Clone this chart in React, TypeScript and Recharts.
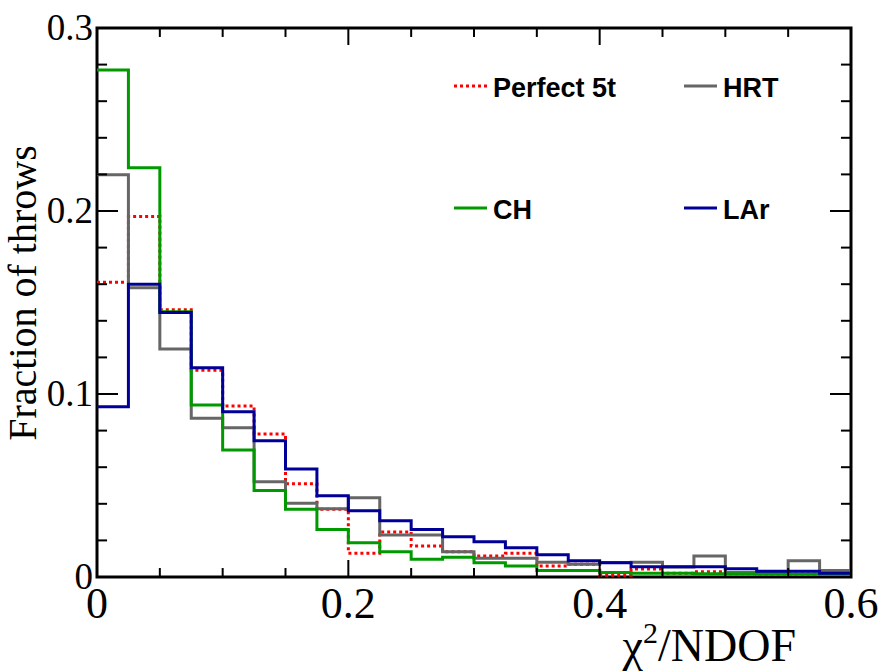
import React from 'react';
import { ComposedChart, Line, XAxis, YAxis, Label, ReferenceLine, ReferenceArea } from 'recharts';

// Bin edges (chi2/NDOF)
const EDGES = [0, 0.025, 0.05, 0.075, 0.1, 0.125, 0.15, 0.175, 0.2, 0.225, 0.25, 0.275, 0.3,
  0.325, 0.35, 0.375, 0.4, 0.425, 0.45, 0.475, 0.5, 0.525, 0.55, 0.575, 0.6];

// Bin contents (fraction of throws), one value per bin
const PERFECT_5T = [0.161, 0.197, 0.146, 0.113, 0.0934, 0.0781, 0.051, 0.037, 0.013, 0.0246, 0.0169, 0.0138,
  0.0115, 0.013, 0.006, 0.0069, 0.001, 0.0044, 0.002, 0.0029, 0.0018, 0.0017, 0.0017, 0.0018];
const HRT = [0.2198, 0.158, 0.1246, 0.0867, 0.0816, 0.0521, 0.0403, 0.0373, 0.0433, 0.023, 0.023, 0.0138,
  0.0102, 0.0102, 0.008, 0.0069, 0.0079, 0.008, 0.0055, 0.0115, 0.0024, 0.003, 0.0089, 0.0035];
const CH = [0.277, 0.2237, 0.145, 0.094, 0.0694, 0.0472, 0.037, 0.026, 0.0187, 0.0138, 0.0097, 0.0108,
  0.0078, 0.006, 0.0035, 0.0035, 0.0024, 0.002, 0.002, 0.0018, 0.0018, 0.0017, 0.0017, 0.0015];
const LAR = [0.093, 0.16, 0.1445, 0.1144, 0.0903, 0.0745, 0.059, 0.0444, 0.0362, 0.0308, 0.026, 0.022,
  0.0193, 0.016, 0.0122, 0.0089, 0.0078, 0.0056, 0.0056, 0.0056, 0.0045, 0.0031, 0.0031, 0.002];

const X_TICKS = [0, 0.05, 0.1, 0.15, 0.2, 0.25, 0.3, 0.35, 0.4, 0.45, 0.5, 0.55, 0.6];
const X_LABELS = [0, 0.2, 0.4, 0.6];
const Y_TICKS = [0, 0.02, 0.04, 0.06, 0.08, 0.1, 0.12, 0.14, 0.16, 0.18, 0.2, 0.22, 0.24, 0.26, 0.28, 0.3];
const Y_LABELS = [0, 0.1, 0.2, 0.3];

const X_MIN = 0;
const X_MAX = 0.6;
const Y_MIN = 0;
const Y_MAX = 0.3;

// tick lengths, in axis units (drawn inward from the frame)
const X_TICK_MAJOR = 0.0093;
const X_TICK_MINOR = 0.0049;
const Y_TICK_MAJOR = 0.0167;
const Y_TICK_MINOR = 0.008;

const SERIES = [
  { key: 'perfect', name: 'Perfect 5t', color: '#ff0000', dash: '3 3', values: PERFECT_5T },
  { key: 'hrt', name: 'HRT', color: '#666666', dash: undefined, values: HRT },
  { key: 'ch', name: 'CH', color: '#009900', dash: undefined, values: CH },
  { key: 'lar', name: 'LAr', color: '#000099', dash: undefined, values: LAR },
];

const LEGEND_POS = [
  { x: 454, y: 86 },
  { x: 684, y: 86 },
  { x: 454, y: 208 },
  { x: 684, y: 208 },
];

const data = EDGES.map((x, i) => {
  const j = Math.min(i, EDGES.length - 2);
  const row: any = { x };
  SERIES.forEach((s) => { row[s.key] = s.values[j]; });
  return row;
});

const isIn = (v: number, list: number[]) => list.some((l) => Math.abs(l - v) < 1e-9);
const fmt = (v: number) => (Math.abs(v) < 1e-12 ? '0' : String(Math.round(v * 10) / 10));

const SERIF = '"Liberation Serif", "Times New Roman", serif';
const SANS = '"Liberation Sans", Arial, sans-serif';

const BottomTick = (props: any) => {
  const { x, y, payload } = props;
  if (!isIn(payload.value, X_LABELS)) return <g />;
  return (
    <text x={x} y={y + 41} textAnchor="middle" fontFamily={SERIF} fontSize={44} fill="#000">
      {fmt(payload.value)}
    </text>
  );
};

const LeftTick = (props: any) => {
  const { x, y, payload } = props;
  if (!isIn(payload.value, Y_LABELS)) return <g />;
  return (
    <text x={x - 4} y={y + 12} textAnchor="end" fontFamily={SERIF} fontSize={37} fill="#000">
      {fmt(payload.value)}
    </text>
  );
};

const XTitle = (props: any) => {
  const vb = props.viewBox || { x: 97, y: 577, width: 754, height: 95 };
  return (
    <text x={vb.x + vb.width - 55} y={vb.y + 84} textAnchor="end" fontFamily={SERIF} fontSize={46} fill="#000">
      χ<tspan dy={-18} fontSize={30}>2</tspan><tspan dy={18}>/NDOF</tspan>
    </text>
  );
};

const YTitle = (props: any) => {
  const vb = props.viewBox || { x: 0, y: 28, width: 97, height: 549 };
  const cx = 36;
  const cy = vb.y + 265;
  return (
    <text x={cx} y={cy} transform={`rotate(-90 ${cx} ${cy})`} textAnchor="middle" fontFamily={SERIF} fontSize={40} fill="#000">
      Fraction of throws
    </text>
  );
};

export default function App() {
  return (
    <div style={{ position: 'absolute', left: 0, top: 0, width: 896, height: 672, background: '#fff' }}>
      <ComposedChart width={896} height={672} data={data} margin={{ top: 28, right: 45, bottom: 0, left: 0 }}>
        <XAxis
          dataKey="x"
          type="number"
          domain={[X_MIN, X_MAX]}
          allowDataOverflow
          ticks={X_TICKS}
          interval={0}
          height={95}
          tickSize={0}
          tickMargin={0}
          tickLine={false}
          axisLine={false}
          tick={<BottomTick />}
        >
          <Label content={<XTitle />} />
        </XAxis>
        <YAxis
          type="number"
          domain={[Y_MIN, Y_MAX]}
          allowDataOverflow
          ticks={Y_TICKS}
          interval={0}
          width={97}
          tickSize={0}
          tickMargin={0}
          tickLine={false}
          axisLine={false}
          tick={<LeftTick />}
        >
          <Label content={<YTitle />} />
        </YAxis>
        {SERIES.map((s) => (
          <Line
            key={s.key}
            dataKey={s.key}
            name={s.name}
            type="stepAfter"
            stroke={s.color}
            strokeWidth={3}
            strokeDasharray={s.dash}
            dot={false}
            activeDot={false}
            isAnimationActive={false}
          />
        ))}
        {X_TICKS.map((t) => {
          const len = isIn(t, X_LABELS) ? X_TICK_MAJOR : X_TICK_MINOR;
          return [
            <ReferenceLine key={`xb${t}`} segment={[{ x: t, y: Y_MIN }, { x: t, y: Y_MIN + len }]} stroke="#000" strokeWidth={2} ifOverflow="visible" />,
            <ReferenceLine key={`xt${t}`} segment={[{ x: t, y: Y_MAX }, { x: t, y: Y_MAX - len }]} stroke="#000" strokeWidth={2} ifOverflow="visible" />,
          ];
        })}
        {Y_TICKS.map((t) => {
          const len = isIn(t, Y_LABELS) ? Y_TICK_MAJOR : Y_TICK_MINOR;
          return [
            <ReferenceLine key={`yl${t}`} segment={[{ x: X_MIN, y: t }, { x: X_MIN + len, y: t }]} stroke="#000" strokeWidth={2} ifOverflow="visible" />,
            <ReferenceLine key={`yr${t}`} segment={[{ x: X_MAX, y: t }, { x: X_MAX - len, y: t }]} stroke="#000" strokeWidth={2} ifOverflow="visible" />,
          ];
        })}
        <ReferenceArea x1={X_MIN} x2={X_MAX} y1={Y_MIN} y2={Y_MAX} fill="none" fillOpacity={0} stroke="#000" strokeWidth={3} ifOverflow="visible" />
      </ComposedChart>
      <svg width={896} height={672} style={{ position: 'absolute', left: 0, top: 0, pointerEvents: 'none' }}>
        {SERIES.map((s, i) => {
          const p = LEGEND_POS[i];
          return (
            <g key={s.key}>
              <line x1={p.x} x2={p.x + 33} y1={p.y} y2={p.y} stroke={s.color} strokeWidth={3} strokeDasharray={s.dash} />
              <text x={p.x + 39} y={p.y + 11} fontFamily={SANS} fontWeight="bold" fontSize={27} fill="#000">
                {s.name}
              </text>
            </g>
          );
        })}
      </svg>
    </div>
  );
}
